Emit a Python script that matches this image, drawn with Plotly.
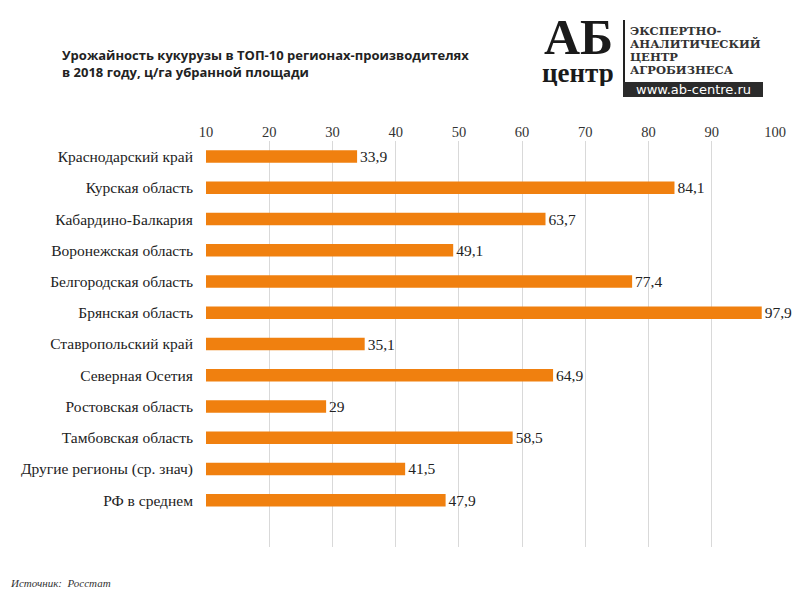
import plotly.graph_objects as go

regions = ["Краснодарский край", "Курская область", "Кабардино-Балкария",
           "Воронежская область", "Белгородская область", "Брянская область",
           "Ставропольский край", "Северная Осетия", "Ростовская область",
           "Тамбовская область", "Другие регионы (ср. знач)", "РФ в среднем"]
values = [33.9, 84.1, 63.7, 49.1, 77.4, 97.9, 35.1, 64.9, 29, 58.5, 41.5, 47.9]
tick_vals = [10, 20, 30, 40, 50, 60, 70, 80, 90, 100]

labels = [("%g" % v).replace(".", ",") for v in values]
base_val = 10
bar_len = [v - base_val for v in values]

serif = "Liberation Serif, Times New Roman, serif"

fig = go.Figure()
fig.add_trace(go.Bar(
    y=regions, x=bar_len, base=base_val, orientation="h",
    marker=dict(color="#F0800F", line=dict(width=0)),
    width=0.4, text=labels, textposition="outside", constraintext="none",
    textfont=dict(family=serif, size=15.5, color="#222"),
    cliponaxis=False, hoverinfo="skip"))

L, R, T, B = 206, 25, 141, 53
pw, ph = 800 - L - R, 600 - T - B

fig.update_layout(
    width=800, height=600, paper_bgcolor="white", plot_bgcolor="white",
    margin=dict(l=L, r=R, t=T, b=B, autoexpand=False),
    showlegend=False,
    xaxis=dict(side="top", range=[10, 100], tickvals=tick_vals,
               showgrid=True, gridcolor="#d9d9d9", gridwidth=1,
               zeroline=False, showline=False, ticks="",
               tickfont=dict(family=serif, size=14.5, color="#333")),
    yaxis=dict(type="category", range=[12.5, -0.5], showgrid=False,
               ticks="", ticklabelstandoff=12, showline=False,
               tickfont=dict(family=serif, size=15.5, color="#222")),
)

def P(x, y):
    return (x - L) / pw, (600 - B - y) / ph

annots = []
def add_text(x, y, text, xanchor="left", yanchor="top", height=None, **font):
    xx, yy = P(x, y)
    a = dict(text=text, x=xx, y=yy, xref="paper", yref="paper", showarrow=False,
             xanchor=xanchor, yanchor=yanchor, align="left", font=font)
    if height:
        a["height"] = height
    annots.append(a)

add_text(60, 44, "<b>Урожайность кукурузы в ТОП-10 регионах-производителях<br>в 2018 году, ц/га убранной площади</b>",
         family="Open Sans, sans-serif", size=13, color="#222")
add_text(8, 575, "<i>Источник:  Росстат</i>", family=serif, size=11, color="#333")

# logo
add_text(578, 12, "<b>АБ</b>", xanchor="center", height=46, family=serif, size=50, color="#1a1a1a")
add_text(578, 58, "<b>центр</b>", xanchor="center", height=26, family=serif, size=27, color="#1a1a1a")
logo_lines = ["ЭКСПЕРТНО-", "АНАЛИТИЧЕСКИЙ", "ЦЕНТР", "АГРОБИЗНЕСА"]
for i, t in enumerate(logo_lines):
    add_text(628, 22 + i * 13, "<b>" + t + "</b>", height=13,
             family="DejaVu Serif, serif", size=11.5, color="#333")

shapes = []
x0, y0 = P(624, 20); x1, y1 = P(624, 97)
shapes.append(dict(type="line", xref="paper", yref="paper", x0=x0, y0=y0, x1=x1, y1=y1,
                   line=dict(color="#222", width=2)))
bx0, by0 = P(623, 82); bx1, by1 = P(763, 97)
shapes.append(dict(type="rect", xref="paper", yref="paper", x0=bx0, y0=by0, x1=bx1, y1=by1,
                   fillcolor="#2b2b2b", line=dict(width=0)))
cx, cy = P(693, 89.5)
annots.append(dict(text="www.ab-centre.ru", x=cx, y=cy, xref="paper", yref="paper",
                   showarrow=False, xanchor="center", yanchor="middle",
                   font=dict(family="DejaVu Sans, sans-serif", size=13, color="white")))
fig.update_layout(annotations=annots, shapes=shapes)

fig.write_html("out.html", config={"displayModeBar": False},
               post_script="document.body.style.margin='0';")
